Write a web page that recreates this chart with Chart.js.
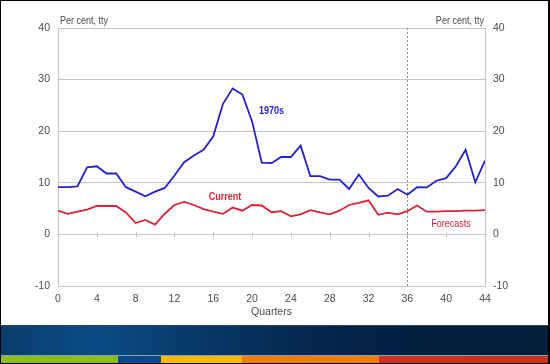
<!DOCTYPE html>
<html><head><meta charset="utf-8">
<script src="https://cdn.jsdelivr.net/npm/chart.js@4"></script>
<style>
html,body{margin:0;padding:0;background:#fff;}
#wrap{position:relative;width:550px;height:364px;background:#fff;overflow:hidden;}
#c{position:absolute;left:0;top:0;}
#banner{position:absolute;left:0;top:325px;width:550px;height:30px;
 background:linear-gradient(90deg,#0a3d6e 0%,#0b4c86 17%,#083a6a 35%,#052850 55%,#031f40 75%,#031d3a 100%);
 border-top:1px solid #2f4256;box-sizing:border-box;}
#sep{position:absolute;left:0;top:355px;width:550px;height:1px;background:#8c9db0;}
.s{position:absolute;top:356px;height:7px;}
#frame{position:absolute;left:0;top:0;width:550px;height:364px;box-sizing:border-box;border:1px solid #000;border-right-width:2px;pointer-events:none;}
</style></head>
<body>
<div id="wrap">
<canvas id="c" width="550" height="325"></canvas>
<div id="banner"></div>
<div id="sep"></div>
<div class="s" style="left:0;width:118px;background:#8dbf1a;"></div>
<div class="s" style="left:118px;width:43px;background:#0b4a8a;"></div>
<div class="s" style="left:161px;width:81px;background:#fbb900;"></div>
<div class="s" style="left:242px;width:137px;background:#ee7d0a;"></div>
<div class="s" style="left:379px;width:171px;background:#c9331f;"></div>
<div id="frame"></div>
</div>
<script>
const quarters = [0,1,2,3,4,5,6,7,8,9,10,11,12,13,14,15,16,17,18,19,20,21,22,23,24,25,26,27,28,29,30,31,32,33,34,35,36,37,38,39,40,41,42,43,44];
const seventies = [9.15,9.15,9.3,13.0,13.2,11.8,11.8,9.15,8.3,7.4,8.3,9.0,11.4,14.0,15.3,16.4,19.0,25.3,28.3,27.1,21.9,13.9,13.8,15.0,15.0,17.2,11.3,11.3,10.6,10.6,8.8,11.6,9.0,7.35,7.5,8.8,7.7,9.15,9.1,10.4,10.9,13.2,16.4,10.1,14.3];
const current = [4.6,4.0,4.4,4.8,5.5,5.5,5.5,4.25,2.2,2.8,1.9,4.0,5.7,6.3,5.7,4.9,4.4,4.0,5.2,4.6,5.7,5.6,4.3,4.5,3.5,3.9,4.7,4.25,3.9,4.6,5.7,6.1,6.6,3.8,4.2,3.9,4.5,5.6,4.4,4.4,4.5,4.5,4.6,4.6,4.7];
const yTicks = [-10,0,10,20,30,40];
const xTicks = [0,4,8,12,16,20,24,28,32,36,40,44];
const forecastStart = 36;
const seriesLabels = [
  {text:'1970s', x:22.0, y:24.0, color:'#2222cc', bold:true},
  {text:'Current', x:17.2, y:7.35, color:'#dd2233', bold:true},
  {text:'Forecasts', x:40.5, y:2.1, color:'#dd2233', bold:false}
];
const FONT = "'Liberation Sans',Arial,sans-serif";
const TXT = '#4a4a4a';
const GRID = '#c6c6c6';
const NARROW = 0.82;

function narrowText(ctx, text, x, y, align){
  ctx.save();
  ctx.translate(x, y);
  ctx.scale(NARROW, 1);
  ctx.textAlign = align;
  ctx.fillText(text, 0, 0);
  ctx.restore();
}

const annot = {
  id:'annot',
  beforeDatasetsDraw(chart){
    const {ctx, chartArea:a, scales:{x, y}} = chart;
    ctx.save();
    ctx.strokeStyle = GRID; ctx.lineWidth = 1;
    const y0 = Math.round(y.getPixelForValue(0)) + 0.5;
    xTicks.forEach(t => {
      if (t === 0 || t === 44) return;
      const px = Math.round(x.getPixelForValue(t)) + 0.5;
      ctx.beginPath(); ctx.moveTo(px, y0 - 3); ctx.lineTo(px, y0 + 3); ctx.stroke();
    });
    const fx = Math.round(x.getPixelForValue(forecastStart)) + 0.5;
    ctx.strokeStyle = '#8a8a8a'; ctx.setLineDash([2,2]);
    ctx.beginPath(); ctx.moveTo(fx, a.top); ctx.lineTo(fx, a.bottom); ctx.stroke();
    ctx.restore();
  },
  afterDatasetsDraw(chart){
    const {ctx, chartArea:a, scales:{x, y}} = chart;
    ctx.save();
    ctx.textBaseline = 'middle';
    seriesLabels.forEach(l => {
      ctx.fillStyle = l.color;
      ctx.font = (l.bold ? 'bold ' : '') + '11px ' + FONT;
      narrowText(ctx, l.text, x.getPixelForValue(l.x), y.getPixelForValue(l.y), 'center');
    });
    ctx.fillStyle = TXT; ctx.font = '11px ' + FONT; ctx.textBaseline = 'alphabetic';
    narrowText(ctx, 'Per cent, tty', a.left + 2, a.top - 4, 'left');
    narrowText(ctx, 'Per cent, tty', a.right - 1, a.top - 4, 'right');
    ctx.restore();
  }
};

new Chart(document.getElementById('c'), {
  type:'line',
  data:{
    datasets:[
      {label:'1970s', data:quarters.map((q,i)=>({x:q,y:seventies[i]})), borderColor:'#2222cc', borderWidth:1.8, pointRadius:0, tension:0, yAxisID:'y'},
      {label:'Current', data:quarters.map((q,i)=>({x:q,y:current[i]})), borderColor:'#dd2233', borderWidth:1.8, pointRadius:0, tension:0, yAxisID:'y'}
    ]
  },
  options:{
    responsive:false, animation:false, events:[],
    layout:{padding:{top:28,left:0,right:0,bottom:0}},
    plugins:{legend:{display:false}, tooltip:{enabled:false}},
    scales:{
      x:{type:'linear', min:0, max:44,
        afterBuildTicks(s){ s.ticks = xTicks.map(v=>({value:v})); },
        afterFit(s){ s.height = 39; },
        grid:{display:false, drawTicks:false}, border:{display:false},
        ticks:{padding:7, color:TXT, font:{family:FONT,size:10.5}, maxRotation:0, autoSkip:false},
        title:{display:true, text:'Quarters', color:TXT, font:{family:FONT,size:10.5}, padding:{top:0,bottom:7}}
      },
      y:{type:'linear', position:'left', min:-10, max:40,
        afterBuildTicks(s){ s.ticks = yTicks.map(v=>({value:v})); },
        afterFit(s){ s.width = 58; },
        grid:{color:GRID, drawTicks:false}, border:{display:true, color:GRID},
        ticks:{padding:8, color:TXT, font:{family:FONT,size:10.5}}
      },
      y2:{type:'linear', position:'right', min:-10, max:40,
        afterBuildTicks(s){ s.ticks = yTicks.map(v=>({value:v})); },
        afterFit(s){ s.width = 65; },
        grid:{display:false, drawTicks:false}, border:{display:true, color:GRID},
        ticks:{padding:8, color:TXT, font:{family:FONT,size:10.5}}
      }
    }
  },
  plugins:[annot]
});
</script>
</body></html>
